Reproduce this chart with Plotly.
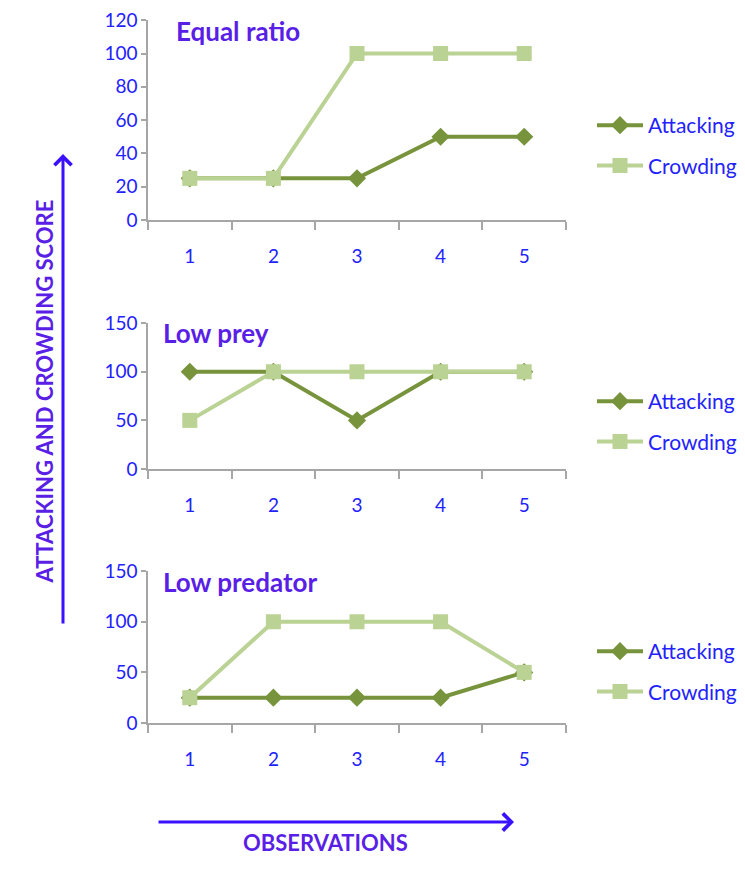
import plotly.graph_objects as go

observations = ["1", "2", "3", "4", "5"]
panel_titles = ["Equal ratio", "Low prey", "Low predator"]
attacking = [
    [25, 25, 25, 50, 50],
    [100, 100, 50, 100, 100],
    [25, 25, 25, 25, 50],
]
crowding = [
    [25, 25, 100, 100, 100],
    [50, 100, 100, 100, 100],
    [25, 100, 100, 100, 50],
]
y_ticks = [
    [0, 20, 40, 60, 80, 100, 120],
    [0, 50, 100, 150],
    [0, 50, 100, 150],
]

# page body has an 8px margin; figure is drawn from (8, 8)
OFF = 8
W, H = 745 - OFF, 872 - OFF


def px(x):
    return (x - OFF) / W


def py(y):
    return 1 - (y - OFF) / H


ATT_C = "#77933C"
CRO_C = "#BAD293"
TICK_C = "#2222FF"
TITLE_C = "#5A1FE6"
ARROW_C = "#3B10FF"
FONT = "Lato"

# reference pixel positions of panels (zero line, top)
panels_px = [(220, 20), (469, 323), (723, 571)]
x_left, x_right = 148, 566
legend_top_px = [105, 381, 631]

fig = go.Figure()
for i in range(3):
    n = "" if i == 0 else str(i + 1)
    xa, ya = "x" + n, "y" + n
    leg = "legend" + n
    fig.add_trace(go.Scatter(
        x=observations, y=attacking[i], name="Attacking", mode="lines+markers",
        line=dict(color=ATT_C, width=4), marker=dict(symbol="diamond", size=14, color=ATT_C),
        xaxis=xa, yaxis=ya, legend=leg, legendgroup="a" + n))
    fig.add_trace(go.Scatter(
        x=observations, y=crowding[i], name="Crowding", mode="lines+markers",
        line=dict(color=CRO_C, width=4), marker=dict(symbol="square", size=15, color=CRO_C),
        xaxis=xa, yaxis=ya, legend=leg, legendgroup="c" + n))
    y0, y1 = panels_px[i]
    top = y_ticks[i][-1]
    xkey = "xaxis" + n
    ykey = "yaxis" + n
    fig.layout[xkey] = dict(
        domain=[px(x_left), px(x_right)], type="category", range=[-0.5, 4.5],
        anchor=ya, showline=True, linecolor="#A6A6A6", linewidth=1.5,
        ticks="outside", ticklen=8, tickcolor="#A6A6A6", tickwidth=1.5,
        tickson="boundaries", showgrid=False, zeroline=False,
        ticklabelstandoff=18, automargin=False, ticklabeloverflow="allow",
        tickfont=dict(family=FONT, size=19, color=TICK_C), fixedrange=True)
    fig.layout[ykey] = dict(
        domain=[py(y0), py(y1)], range=[0, top * 1.001], tickmode="array",
        tickvals=y_ticks[i], anchor=xa,
        showline=True, linecolor="#A6A6A6", linewidth=1.5,
        ticks="outside", ticklen=5, tickcolor="#A6A6A6", tickwidth=1.5,
        showgrid=False, zeroline=False, automargin=False,
        ticklabeloverflow="allow",
        tickfont=dict(family=FONT, size=19, color=TICK_C), fixedrange=True)
    fig.layout[leg] = dict(
        x=px(592), y=py(legend_top_px[i]), xanchor="left", yanchor="top",
        bgcolor="rgba(0,0,0,0)", tracegroupgap=10,
        font=dict(family=FONT, size=21, color=TICK_C), itemwidth=46)
    tx = 174 if i == 0 else 161
    ty = [31, 333, 582][i]
    fig.add_annotation(
        text="<b>" + panel_titles[i] + "</b>", x=px(tx), y=py(ty),
        xref="paper", yref="paper", xanchor="left", yanchor="middle",
        showarrow=False, font=dict(family=FONT, size=26, color=TITLE_C))

# vertical arrow
fig.add_annotation(
    x=px(63), y=py(154), xref="paper", yref="paper", ax=0, ay=471,
    text="", showarrow=True, arrowhead=4, arrowsize=1.1, arrowwidth=3,
    arrowcolor=ARROW_C)
# horizontal arrow
fig.add_annotation(
    x=px(514), y=py(822), xref="paper", yref="paper", ax=-357, ay=0,
    text="", showarrow=True, arrowhead=4, arrowsize=1.1, arrowwidth=3,
    arrowcolor=ARROW_C)
fig.add_annotation(
    text="<b>ATTACKING AND CROWDING SCORE</b>", x=px(28), y=py(392),
    xref="paper", yref="paper", textangle=-90, showarrow=False,
    font=dict(family=FONT, size=22, color=TITLE_C))
fig.add_annotation(
    text="<b>OBSERVATIONS</b>", x=px(325), y=py(858),
    xref="paper", yref="paper", showarrow=False,
    font=dict(family=FONT, size=22, color=TITLE_C))

fig.update_layout(
    width=W, height=H, margin=dict(l=0, r=0, t=0, b=0, autoexpand=False),
    plot_bgcolor="white", paper_bgcolor="white", showlegend=True,
    font=dict(family=FONT))

fig.write_html("out.html")
